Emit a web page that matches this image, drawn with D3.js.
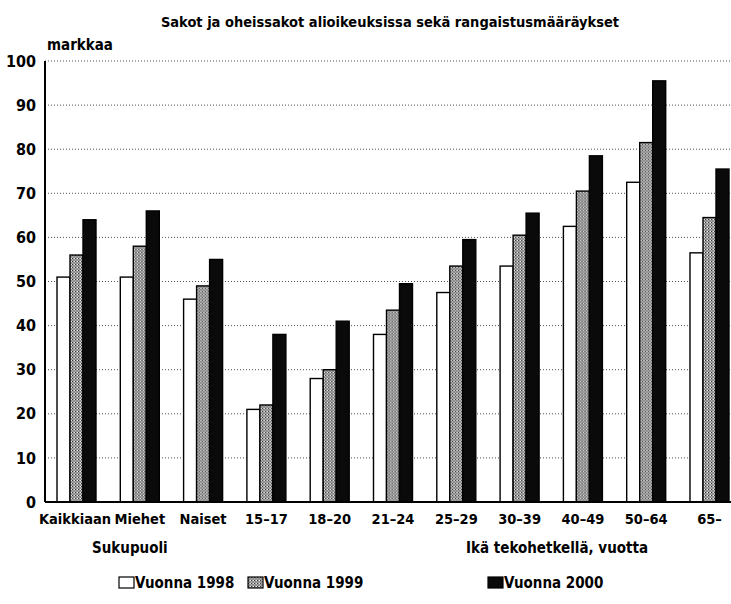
<!DOCTYPE html>
<html>
<head>
<meta charset="utf-8">
<script src="https://cdn.jsdelivr.net/npm/d3@7"></script>
<style>
body { margin: 0; background: #fff; }
text { font-family: "Liberation Sans Narrow", "DejaVu Sans Condensed", "DejaVu Sans", sans-serif; font-stretch: condensed; font-weight: bold; fill: #000; }
</style>
</head>
<body>
<div id="chart"></div>
<script>
var width = 731;
var height = 604;

var categories = ["Kaikkiaan", "Miehet", "Naiset", "15\u201317", "18\u201320", "21\u201324", "25\u201329", "30\u201339", "40\u201349", "50\u201364", "65\u2013"];
var series = ["Vuonna 1998", "Vuonna 1999", "Vuonna 2000"];
var v1998 = [51, 51, 46, 21, 28, 38, 47.5, 53.5, 62.5, 72.5, 56.5];
var v1999 = [56, 58, 49, 22, 30, 43.5, 53.5, 60.5, 70.5, 81.5, 64.5];
var v2000 = [64, 66, 55, 38, 41, 49.5, 59.5, 65.5, 78.5, 95.5, 75.5];
var yTicks = [0, 10, 20, 30, 40, 50, 60, 70, 80, 90, 100];

var values = [v1998, v1999, v2000];

var svg = d3.select("#chart").append("svg")
	.attr("width", width)
	.attr("height", height);

// halftone-ish gray for 1999
var defs = svg.append("defs");
var pat = defs.append("pattern")
	.attr("id", "gray")
	.attr("patternUnits", "userSpaceOnUse")
	.attr("width", 3)
	.attr("height", 3);
pat.append("rect").attr("width", 3).attr("height", 3).attr("fill", "#a8a8a8");
pat.append("rect").attr("x", 0).attr("y", 0).attr("width", 1).attr("height", 1).attr("fill", "#333");
pat.append("rect").attr("x", 1.5).attr("y", 1.5).attr("width", 1).attr("height", 1).attr("fill", "#444");
pat.append("rect").attr("x", 2).attr("y", 0).attr("width", 1).attr("height", 1).attr("fill", "#eee");

var fills = ["#fff", "url(#gray)", "#0a0a0a"];

var plotLeft = 45, plotTop = 61, plotBottom = 502;

var y = d3.scaleLinear().domain([0, 100]).range([plotBottom, plotTop]);
var x0 = d3.scaleBand().domain(categories).range([plotLeft, plotLeft + 11 * 63.3]).padding(0);
var x1 = d3.scaleBand().domain(series).range([12, 51]).padding(0);

// title
svg.append("text")
	.attr("x", 390).attr("y", 27)
	.attr("text-anchor", "middle")
	.style("font-size", "14.5px")
	.text("Sakot ja oheissakot alioikeuksissa sekä rangaistusmääräykset");

svg.append("text")
	.attr("x", 47).attr("y", 50)
	.style("font-size", "15px")
	.text("markkaa");

// dotted gridlines
svg.append("g").selectAll("line")
	.data(yTicks.filter(function(d) { return d > 0; }))
	.enter().append("line")
	.attr("x1", plotLeft).attr("x2", width)
	.attr("y1", function(d) { return y(d); })
	.attr("y2", function(d) { return y(d); })
	.attr("stroke", "#000")
	.attr("stroke-width", 0.7)
	.attr("stroke-dasharray", "1,2");

// y labels
svg.append("g").selectAll("text")
	.data(yTicks)
	.enter().append("text")
	.attr("x", 36)
	.attr("y", function(d) { return y(d); })
	.attr("dy", "0.35em")
	.attr("text-anchor", "end")
	.style("font-size", "16px")
	.text(function(d) { return d; });

// bars
var groups = svg.append("g").selectAll("g")
	.data(categories)
	.enter().append("g")
	.attr("transform", function(d) { return "translate(" + x0(d) + ",0)"; });

groups.selectAll("rect")
	.data(function(d, i) { return series.map(function(s, j) { return {s: s, j: j, v: values[j][i]}; }); })
	.enter().append("rect")
	.attr("x", function(d) { return x1(d.s); })
	.attr("y", function(d) { return y(d.v); })
	.attr("width", x1.bandwidth())
	.attr("height", function(d) { return plotBottom - y(d.v); })
	.attr("fill", function(d) { return fills[d.j]; })
	.attr("stroke", "#000")
	.attr("stroke-width", 1.4);

// axes lines
svg.append("line")
	.attr("x1", plotLeft).attr("x2", plotLeft)
	.attr("y1", plotTop).attr("y2", plotBottom)
	.attr("stroke", "#000").attr("stroke-width", 2);
svg.append("line")
	.attr("x1", plotLeft).attr("x2", width)
	.attr("y1", plotBottom).attr("y2", plotBottom)
	.attr("stroke", "#000").attr("stroke-width", 2);

// x labels
svg.append("g").selectAll("text")
	.data(categories)
	.enter().append("text")
	.attr("x", function(d, i) { return x0(d) + 31.5 - (i === 0 ? 1.5 : 0); })
	.attr("y", 524)
	.attr("text-anchor", "middle")
	.style("font-size", "14.5px")
	.text(function(d) { return d; });

svg.append("text")
	.attr("x", 92).attr("y", 553)
	.style("font-size", "15px")
	.text("Sukupuoli");

svg.append("text")
	.attr("x", 466).attr("y", 553)
	.style("font-size", "15px")
	.text("Ikä tekohetkellä, vuotta");

// legend
var legendX = [119, 248, 488];
var legend = svg.append("g").selectAll("g")
	.data(series)
	.enter().append("g")
	.attr("transform", function(d, i) { return "translate(" + legendX[i] + ",577)"; });

legend.append("rect")
	.attr("width", 15).attr("height", 11)
	.attr("fill", function(d, i) { return fills[i]; })
	.attr("stroke", "#000")
	.attr("stroke-width", 1.2);

legend.append("text")
	.attr("x", 16).attr("y", 11)
	.style("font-size", "15px")
	.text(function(d) { return d; });
</script>
</body>
</html>
